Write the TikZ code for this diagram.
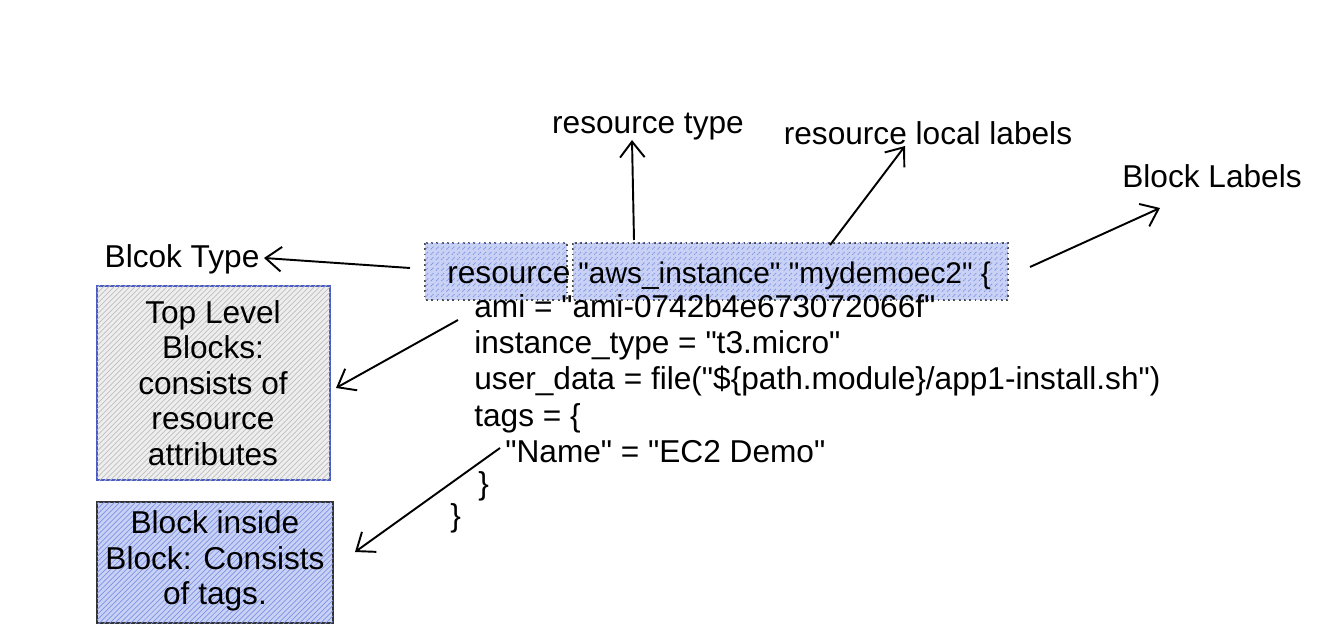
\documentclass[tikz,border=0pt]{standalone}
\usepackage{fontspec}
\setmainfont[Ligatures=TeXReset]{Liberation Sans}
\usetikzlibrary{arrows.meta,patterns}
\definecolor{hblue}{HTML}{4A5BC4}
\definecolor{lblue}{HTML}{C9D2F5}
\definecolor{hatchb}{HTML}{7F93E6}
\definecolor{lgray}{HTML}{EEEEEE}
\begin{document}
\begin{tikzpicture}[x=0.02cm,y=-0.02cm,
  txt/.style={font=\fontsize{18}{20.2}\selectfont, inner sep=0pt},
  code/.style={txt, anchor=base west},
  arr/.style={draw=black, line width=1.1pt, -{Straight Barb[length=9pt,width=14pt,line width=1.1pt]}},
  hl/.style={draw=black!70, dotted, line width=1pt, fill=lblue, postaction={pattern=north east lines, pattern color=hatchb}},
  box1/.style={draw=hblue, line width=1.3pt, fill=lgray, postaction={pattern=north east lines, pattern color=black!25}},
  box2/.style={draw=black!80, line width=1.6pt, fill=lblue, postaction={pattern=north east lines, pattern color=hatchb}},
  boxtxt/.style={txt, align=center}
]
\useasboundingbox (0,0) rectangle (1325,638);
% highlights
\path[hl] (425,243) rectangle (567,300);
\path[hl] (573,243) rectangle (1008,300);
% boxes
\path[box1] (97,286) rectangle (330,480);
\node[boxtxt] (tl) at (213,383) {Top Level\\Blocks:\\consists of\\resource\\attributes};
\path[box2] (97,502) rectangle (333,623);
\node[boxtxt] (bib) at (215,561) {Block inside\\Block: Consists\\of tags.};
% labels
\node[txt] (btype) at (182,259) {Blcok Type};
\node[txt] (rtype) at (648,127) {resource type};
\node[txt] (rlocal) at (928,133) {resource local labels};
\node[txt] (blabels) at (1212,176) {Block Labels};
% code
\node[code] (l0a) at (447,284) {resource};
\node[code, font=\fontsize{17}{20}\selectfont] (l0b) at (578,284) {"aws\_instance" "mydemoec2" \{};
\node[code] (l1) at (474,318) {ami = "ami-0742b4e673072066f"};
\node[code] (l2) at (474,354) {instance\_type = "t3.micro"};
\node[code] (l3) at (474,390) {user\_data = file("\$\{path.module\}/app1-install.sh")};
\node[code] (l4) at (474,426) {tags = \{};
\node[code] (l5) at (505,462) {"Name" = "EC2 Demo"};
\node[code] (l6) at (478,494) {\}};
\node[code] (l7) at (450,526) {\}};
% arrow endpoints
\coordinate (a1s) at (410,268); \coordinate (a1e) at (264,258);
\coordinate (a2s) at (634,240); \coordinate (a2e) at (632,140);
\coordinate (a3s) at (830,245); \coordinate (a3e) at (905,146);
\coordinate (a4s) at (1030,267); \coordinate (a4e) at (1160,208);
\coordinate (a5s) at (458,320); \coordinate (a5e) at (336,388);
\coordinate (a6s) at (500,448); \coordinate (a6e) at (355,552);
\draw[arr] (a1s) -- (a1e);
\draw[arr] (a2s) -- (a2e);
\draw[arr] (a3s) -- (a3e);
\draw[arr] (a4s) -- (a4e);
\draw[arr] (a5s) -- (a5e);
\draw[arr] (a6s) -- (a6e);
\end{tikzpicture}
\end{document}
